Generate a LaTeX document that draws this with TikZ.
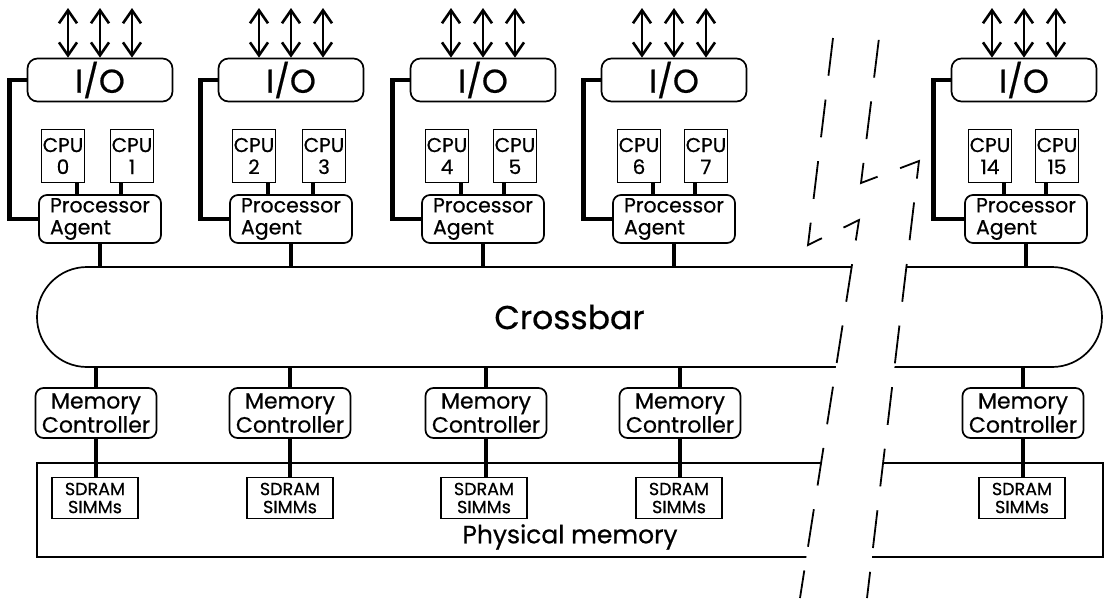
\documentclass[tikz,border=0pt]{standalone}
\usepackage{fontspec}
\setmainfont{Poppins}[BoldFont=Poppins,BoldFeatures={FakeBold=0.6}]
\usetikzlibrary{arrows.meta,calc}
\tikzset{
 box/.style={draw,line width=1.7pt,inner sep=0pt,align=center},
 io/.style={box,rounded corners=10pt,minimum width=145pt,minimum height=43pt,font=\bfseries\fontsize{33}{33}\selectfont},
 cpu/.style={box,minimum width=43pt,minimum height=53pt,font=\bfseries\fontsize{20}{22}\selectfont},
 agent/.style={box,rounded corners=8pt,minimum width=122pt,minimum height=48pt,align=left,font=\bfseries\fontsize{20.5}{22}\selectfont},
 memctl/.style={box,rounded corners=8pt,minimum width=121pt,minimum height=50pt,font=\bfseries\fontsize{22}{24}\selectfont},
 simm/.style={box,minimum width=86pt,minimum height=41pt,font=\bfseries\fontsize{17.5}{18}\selectfont},
 xbar/.style={box,rounded corners=50pt,minimum width=1065pt,minimum height=100pt,font=\bfseries\fontsize{33}{33}\selectfont},
 physmem/.style={box,minimum width=1066pt,minimum height=94pt},
 bus/.style={line width=4.5pt},
 ioarr/.style={{Straight Barb[length=13pt,width=18pt]}-{Straight Barb[length=13pt,width=18pt]},line width=2.6pt},
 brk/.style={line width=1.8pt,dash pattern=on 38pt off 24pt}}

\begin{document}
\begin{tikzpicture}[x=1pt,y=-1pt]
\useasboundingbox (0,0) rectangle (1104,598);
\coordinate (ext) at (0,8);

\node[io] (io1) at (100,80) {I/O};
\node[io] (io2) at (291,80) {I/O};
\node[io] (io3) at (483,80) {I/O};
\node[io] (io4) at (674,80) {I/O};
\node[io] (io5) at (1024,80) {I/O};

\node[cpu] (cpu0) at (63,156) {CPU\\0};
\node[cpu] (cpu1) at (132,156) {CPU\\1};
\node[cpu] (cpu2) at (254,156) {CPU\\2};
\node[cpu] (cpu3) at (324,156) {CPU\\3};
\node[cpu] (cpu4) at (447,156) {CPU\\4};
\node[cpu] (cpu5) at (515,156) {CPU\\5};
\node[cpu] (cpu6) at (639,156) {CPU\\6};
\node[cpu] (cpu7) at (706,156) {CPU\\7};
\node[cpu] (cpu14) at (990,156) {CPU\\14};
\node[cpu] (cpu15) at (1057,156) {CPU\\15};

\node[agent] (pa1) at (100,219) {Processor\\Agent};
\node[agent] (pa2) at (291,219) {Processor\\Agent};
\node[agent] (pa3) at (483,219) {Processor\\Agent};
\node[agent] (pa4) at (674,219) {Processor\\Agent};
\node[agent] (pa5) at (1026,219) {Processor\\Agent};

\node[xbar] (xbar) at (569.5,317) {Crossbar};

\node[memctl] (mc1) at (96,413) {Memory\\Controller};
\node[memctl] (mc2) at (290,413) {Memory\\Controller};
\node[memctl] (mc3) at (486,413) {Memory\\Controller};
\node[memctl] (mc4) at (680,413) {Memory\\Controller};
\node[memctl] (mc5) at (1023,413) {Memory\\Controller};

\node[physmem] (phys) at (570,510) {};
\node[font=\bfseries\fontsize{25}{25}\selectfont] (physlbl) at (570,537) {Physical memory};
\node[simm] (sd1) at (95,498) {SDRAM\\SIMMs};
\node[simm] (sd2) at (290,498) {SDRAM\\SIMMs};
\node[simm] (sd3) at (484,498) {SDRAM\\SIMMs};
\node[simm] (sd4) at (679,498) {SDRAM\\SIMMs};
\node[simm] (sd5) at (1022,498) {SDRAM\\SIMMs};

% external I/O links
\draw[ioarr] ([xshift=-32pt]io1.north) -- ([xshift=-32pt]io1.north |- ext);
\draw[ioarr] (io1.north) -- (io1.north |- ext);
\draw[ioarr] ([xshift=32pt]io1.north) -- ([xshift=32pt]io1.north |- ext);
\draw[ioarr] ([xshift=-32pt]io2.north) -- ([xshift=-32pt]io2.north |- ext);
\draw[ioarr] (io2.north) -- (io2.north |- ext);
\draw[ioarr] ([xshift=32pt]io2.north) -- ([xshift=32pt]io2.north |- ext);
\draw[ioarr] ([xshift=-32pt]io3.north) -- ([xshift=-32pt]io3.north |- ext);
\draw[ioarr] (io3.north) -- (io3.north |- ext);
\draw[ioarr] ([xshift=32pt]io3.north) -- ([xshift=32pt]io3.north |- ext);
\draw[ioarr] ([xshift=-32pt]io4.north) -- ([xshift=-32pt]io4.north |- ext);
\draw[ioarr] (io4.north) -- (io4.north |- ext);
\draw[ioarr] ([xshift=32pt]io4.north) -- ([xshift=32pt]io4.north |- ext);
\draw[ioarr] ([xshift=-32pt]io5.north) -- ([xshift=-32pt]io5.north |- ext);
\draw[ioarr] (io5.north) -- (io5.north |- ext);
\draw[ioarr] ([xshift=32pt]io5.north) -- ([xshift=32pt]io5.north |- ext);

% I/O to agent
\draw[bus] (io1.west) -- ++(-17pt,0) |- (pa1.west);
\draw[bus] (io2.west) -- ++(-17pt,0) |- (pa2.west);
\draw[bus] (io3.west) -- ++(-17pt,0) |- (pa3.west);
\draw[bus] (io4.west) -- ++(-17pt,0) |- (pa4.west);
\draw[bus] (io5.west) -- ++(-17pt,0) |- (pa5.west);

% CPUs to agent
\draw[bus] ([xshift=14pt]cpu0.south) -- ([xshift=14pt]cpu0.south |- pa1.north);
\draw[bus] ([xshift=-11pt]cpu1.south) -- ([xshift=-11pt]cpu1.south |- pa1.north);
\draw[bus] ([xshift=14pt]cpu2.south) -- ([xshift=14pt]cpu2.south |- pa2.north);
\draw[bus] ([xshift=-11pt]cpu3.south) -- ([xshift=-11pt]cpu3.south |- pa2.north);
\draw[bus] ([xshift=14pt]cpu4.south) -- ([xshift=14pt]cpu4.south |- pa3.north);
\draw[bus] ([xshift=-11pt]cpu5.south) -- ([xshift=-11pt]cpu5.south |- pa3.north);
\draw[bus] ([xshift=14pt]cpu6.south) -- ([xshift=14pt]cpu6.south |- pa4.north);
\draw[bus] ([xshift=-11pt]cpu7.south) -- ([xshift=-11pt]cpu7.south |- pa4.north);
\draw[bus] ([xshift=14pt]cpu14.south) -- ([xshift=14pt]cpu14.south |- pa5.north);
\draw[bus] ([xshift=-11pt]cpu15.south) -- ([xshift=-11pt]cpu15.south |- pa5.north);

% agents to crossbar, crossbar to memory
\draw[bus] (pa1.south) -- (pa1.south |- xbar.north);
\draw[bus] (pa2.south) -- (pa2.south |- xbar.north);
\draw[bus] (pa3.south) -- (pa3.south |- xbar.north);
\draw[bus] (pa4.south) -- (pa4.south |- xbar.north);
\draw[bus] (pa5.south) -- (pa5.south |- xbar.north);
\draw[bus] (mc1.north |- xbar.south) -- (mc1.north);
\draw[bus] (mc2.north |- xbar.south) -- (mc2.north);
\draw[bus] (mc3.north |- xbar.south) -- (mc3.north);
\draw[bus] (mc4.north |- xbar.south) -- (mc4.north);
\draw[bus] (mc5.north |- xbar.south) -- (mc5.north);
\draw[bus] (mc1.south) -- (mc1.south |- sd1.north);
\draw[bus] (mc2.south) -- (mc2.south |- sd2.north);
\draw[bus] (mc3.south) -- (mc3.south |- sd3.north);
\draw[bus] (mc4.south) -- (mc4.south |- sd4.north);
\draw[bus] (mc5.south) -- (mc5.south |- sd5.north);

% break between CPU 7 and CPU 14
\coordinate (bl1) at (833,38);
\coordinate (bl2) at (808,245);
\coordinate (bl3) at (859,220);
\coordinate (bl4) at (800,598);
\coordinate (br1) at (881,22);
\coordinate (br2) at (861,183);
\coordinate (br3) at (919,161);
\coordinate (br4) at (867,598);
\fill[white] ($(bl3)!0.1!(bl4)$) -- ($(br3)!0.222!(br4)$) -- (br4) -- (bl4) -- cycle;
\draw[brk] (bl1) -- (bl2) -- (bl3) -- (bl4);
\draw[brk,dash phase=44pt] (br1) -- (br2) -- (br3) -- (br4);
\end{tikzpicture}
\end{document}
